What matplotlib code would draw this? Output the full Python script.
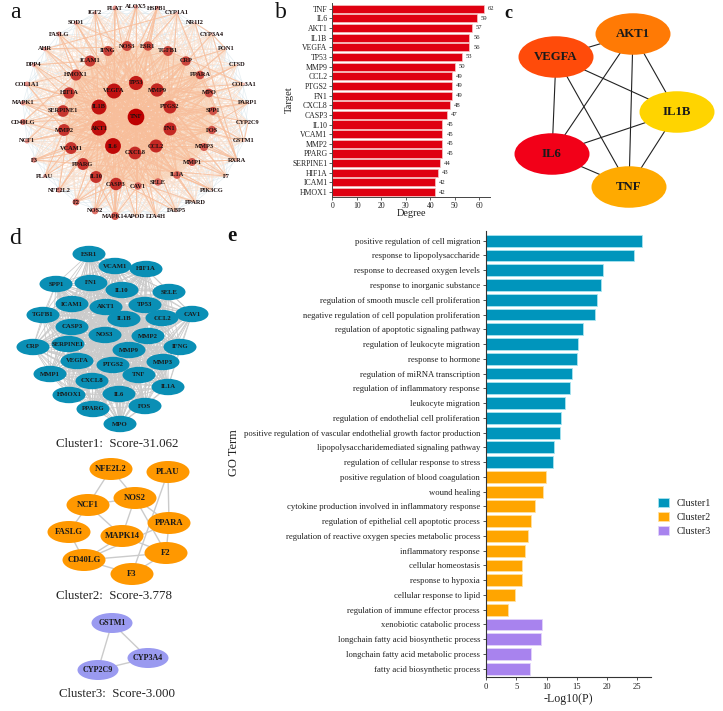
#!/usr/bin/env python3
from itertools import combinations

import matplotlib
matplotlib.use("Agg")
import matplotlib.pyplot as plt
from matplotlib.colors import LinearSegmentedColormap
from matplotlib.patches import Circle, Ellipse, Patch

W, H = 723, 711
plt.rcParams["font.family"] = ["Liberation Serif", "DejaVu Serif"]

# --- panel a: network, node position read in pixels ---
a_names = ["TNF", "IL1B", "AKT1", "VEGFA", "TP53", "MMP9", "PTGS2", "FN1", "CCL2", "CXCL8", "IL6",
           "HIF1A", "HMOX1", "ICAM1", "IFNG", "NOS3", "ESR1", "TGFB1", "CRP", "PPARA", "MPO", "SPP1",
           "FOS", "MMP3", "MMP1", "IL1A", "SELE", "CAV1", "CASP3", "IL10", "PPARG", "VCAM1", "MMP2",
           "SERPINE1", "PLAT", "ALOX5", "HSPB1", "CYP1A1", "NR1I2", "CYP3A4", "PON1", "CTSD", "COL3A1",
           "PARP1", "CYP2C9", "GSTM1", "RXRA", "F7", "PIK3CG", "PPARD", "FABP5", "LTA4H", "APOD",
           "MAPK14", "NOS2", "F2", "NFE2L2", "PLAU", "F3", "NCF1", "CD40LG", "MAPK1", "COL1A1", "DPP4",
           "AHR", "FASLG", "SOD1", "IGF2"]
a_x = [136, 99, 99, 114, 136, 157, 170, 170, 156, 135, 113,
       69, 76, 90, 108, 127, 148, 168, 186, 200, 209, 213,
       212, 204, 192, 177, 158, 138, 116, 96, 83, 71, 64,
       63, 115, 136, 157, 177, 195, 212, 226, 237, 244,
       248, 248, 244, 237, 226, 212, 195, 176, 156, 136,
       115, 95, 76, 59, 45, 34, 27, 23, 23, 27, 34,
       45, 59, 76, 95]
a_y = [117, 107, 128, 91, 83, 90, 107, 129, 146, 153, 146,
       93, 75, 61, 51, 46, 46, 51, 61, 75, 93, 111,
       130, 147, 162, 175, 182, 186, 184, 177, 164, 148, 130,
       111, 8, 7, 8, 13, 23, 34, 49, 65, 84,
       103, 122, 141, 160, 176, 190, 202, 211, 216, 217,
       216, 211, 202, 190, 176, 160, 141, 122, 103, 84, 65,
       49, 34, 23, 13]
a_degree = [62, 56, 57, 56, 53, 50, 49, 49, 49, 48, 59,
            43, 42, 42, 38, 38, 36, 38, 36, 33, 33, 32,
            32, 31, 31, 30, 29, 29, 47, 45, 45, 45, 45,
            44, 20, 18, 18, 14, 12, 12, 10, 10, 12,
            12, 10, 10, 14, 10, 10, 10, 12, 12, 10,
            31, 26, 27, 22, 16, 22, 20, 24, 20, 20, 18,
            18, 20, 18, 16]
# outer-ring links that stand out in the picture
a_links = {
    "PLAT": ["VEGFA", "IL6", "TNF"], "ALOX5": ["TNF", "AKT1", "NOS3"], "HSPB1": ["ESR1", "AKT1", "TNF", "IL6"],
    "CYP1A1": ["RXRA", "ESR1", "PTGS2"], "NR1I2": ["RXRA", "CYP3A4"], "CYP3A4": ["PON1", "GSTM1", "TNF"],
    "PON1": ["CRP", "IL6"], "CTSD": ["TNF", "AKT1"], "COL3A1": ["MMP9", "TGFB1", "MMP2"],
    "PARP1": ["TNF", "TP53", "CASP3", "AKT1"], "CYP2C9": ["PTGS2", "GSTM1"], "GSTM1": ["TNF", "TP53"],
    "RXRA": ["MMP1", "FN1", "PPARA", "VEGFA", "IL1B"], "F7": ["CCL2", "TNF", "MMP9", "F3"],
    "PIK3CG": ["AKT1", "IL6", "IL1A"], "PPARD": ["VEGFA", "IL1A", "PPARG"], "FABP5": ["PPARG", "IL6", "TNF"],
    "LTA4H": ["IL1B", "CXCL8", "TNF"], "APOD": ["TNF", "IL6"], "MAPK14": ["CASP3", "IL10", "IL6", "CAV1", "TNF", "AKT1", "NOS3"],
    "NOS2": ["IL10", "IL6", "TNF", "CASP3"], "F2": ["IL6", "CASP3", "VEGFA", "CCL2"], "NFE2L2": ["HMOX1", "TP53", "AKT1"],
    "PLAU": ["MMP2", "VEGFA", "TNF"], "F3": ["VCAM1", "IL6", "TNF"], "NCF1": ["NOS3", "TNF", "AKT1"],
    "CD40LG": ["IL6", "TNF", "IL1B", "ICAM1"], "MAPK1": ["TNF", "IL6", "AKT1", "HIF1A"], "COL1A1": ["TNF", "MMP2", "TGFB1", "IL1B"],
    "DPP4": ["IL6", "IL1B", "ICAM1"], "AHR": ["ESR1", "CYP1A1", "IL1B", "TNF"], "FASLG": ["IL1B", "CASP3", "ICAM1"],
    "SOD1": ["VEGFA", "TNF", "NOS3"], "IGF2": ["AKT1", "VEGFA", "TP53"],
}

# --- panel b ---
b_targets = ["TNF", "IL6", "AKT1", "IL1B", "VEGFA", "TP53", "MMP9", "CCL2", "PTGS2", "FN1", "CXCL8",
             "CASP3", "IL10", "VCAM1", "MMP2", "PPARG", "SERPINE1", "HIF1A", "ICAM1", "HMOX1"]
b_degree = [62, 59, 57, 56, 56, 53, 50, 49, 49, 49, 48, 47, 45, 45, 45, 45, 44, 43, 42, 42]

# --- panel c ---
c_names = ["AKT1", "VEGFA", "IL1B", "IL6", "TNF"]
c_x = [633, 556, 677, 552, 629]
c_y = [34, 57, 112, 154, 187]
c_colors = ["#FF7A05", "#FF4B0A", "#FFD400", "#F20018", "#FFAA00"]

# --- panel d ---
d1_names = ["ESR1", "VCAM1", "HIF1A", "SPP1", "FN1", "IL10", "SELE", "ICAM1", "AKT1", "TP53", "TGFB1",
            "IL1B", "CCL2", "CAV1", "CASP3", "NOS3", "MMP2", "CRP", "SERPINE1", "IFNG", "MMP9", "VEGFA",
            "MMP3", "PTGS2", "MMP1", "TNF", "CXCL8", "IL1A", "HMOX1", "IL6", "FOS", "PPARG", "MPO"]
d1_x = [89, 115, 146, 56, 91, 122, 169, 72, 106, 145, 43,
        124, 162, 192, 72, 105, 148, 33, 68, 180, 129, 77,
        163, 113, 50, 139, 92, 168, 69, 119, 145, 93, 120]
d1_y = [254, 266, 269, 284, 283, 290, 292, 304, 307, 305, 315,
        319, 318, 314, 327, 335, 336, 347, 344, 347, 350, 361,
        362, 365, 374, 375, 381, 387, 395, 394, 406, 409, 424]

d2_names = ["NFE2L2", "PLAU", "NCF1", "NOS2", "PPARA", "FASLG", "MAPK14", "F2", "CD40LG", "F3"]
d2_x = [111, 168, 88, 135, 169, 69, 122, 166, 84, 132]
d2_y = [469, 472, 505, 498, 523, 532, 536, 553, 560, 574]
d2_edges = [("NFE2L2", "NCF1"), ("NFE2L2", "NOS2"), ("NCF1", "NOS2"), ("NCF1", "FASLG"), ("NCF1", "MAPK14"),
            ("NOS2", "MAPK14"), ("NOS2", "PPARA"), ("NOS2", "F2"), ("PLAU", "PPARA"), ("PLAU", "F3"),
            ("PPARA", "F2"), ("PPARA", "CD40LG"), ("FASLG", "CD40LG"), ("MAPK14", "CD40LG"), ("MAPK14", "F2"),
            ("CD40LG", "F2"), ("CD40LG", "F3"), ("F3", "F2")]

d3_names = ["GSTM1", "CYP3A4", "CYP2C9"]
d3_x = [112, 148, 98]
d3_y = [623, 658, 670]

cluster_captions = ["Cluster1:  Score-31.062", "Cluster2:  Score-3.778", "Cluster3:  Score-3.000"]

# --- panel e ---
e_terms = ["positive regulation of cell migration", "response to lipopolysaccharide",
           "response to decreased oxygen levels", "response to inorganic substance",
           "regulation of smooth muscle cell proliferation", "negative regulation of cell population proliferation",
           "regulation of apoptotic signaling pathway", "regulation of leukocyte migration", "response to hormone",
           "regulation of miRNA transcription", "regulation of inflammatory response", "leukocyte migration",
           "regulation of endothelial cell proliferation",
           "positive regulation of vascular endothelial growth factor production",
           "lipopolysaccharidemediated signaling pathway", "regulation of cellular response to stress",
           "positive regulation of blood coagulation", "wound healing",
           "cytokine production involved in inflammatory response", "regulation of epithelial cell apoptotic process",
           "regulation of reactive oxygen species metabolic process", "inflammatory response", "cellular homeostasis",
           "response to hypoxia", "cellular response to lipid", "regulation of immune effector process",
           "xenobiotic catabolic process", "longchain fatty acid biosynthetic process",
           "longchain fatty acid metabolic process", "fatty acid biosynthetic process"]
e_values = [25.9, 24.5, 19.45, 19.1, 18.45, 18.05, 16.07, 15.2, 15.0, 14.2, 13.96, 13.07, 12.47, 12.3, 11.25, 11.1,
            9.86, 9.47, 8.03, 7.48, 6.93, 6.37, 5.98, 5.87, 4.76, 3.66,
            9.25, 9.14, 7.37, 7.26]
e_cluster = [0] * 16 + [1] * 10 + [2] * 4
cluster_names = ["Cluster1", "Cluster2", "Cluster3"]
cluster_colors = ["#0095BC", "#FFA500", "#A883EE"]
cluster_edges = ["#A8E4F0", "#FFE0A0", "#E2D4FA"]
TEXT = "#222222"


def px_axes(fig, left, top, right, bottom):
    return fig.add_axes([left / W, 1 - bottom / H, (right - left) / W, (bottom - top) / H])


def draw_cluster(ax, names, xs, ys, edges, face, rx, ry, size, edge_lw=1.0):
    pos = {n: (x, y) for n, x, y in zip(names, xs, ys)}
    for p, q in edges:
        ax.plot([pos[p][0], pos[q][0]], [pos[p][1], pos[q][1]], color="#CBCBCB", lw=edge_lw, zorder=1)
    for n in names:
        ax.add_patch(Ellipse(pos[n], 2 * rx, 2 * ry, facecolor=face, edgecolor="none", zorder=2))
        ax.text(*pos[n], n, ha="center", va="center", fontsize=size, fontweight="bold", color="#1a1a1a", zorder=3)


fig = plt.figure(figsize=(W / 100, H / 100), dpi=100, facecolor="white")

net = fig.add_axes([0, 0, 1, 1])
net.set_xlim(0, W)
net.set_ylim(H, 0)
net.axis("off")

# panel a
pos_a = {n: (x, y) for n, x, y in zip(a_names, a_x, a_y)}
red_map = LinearSegmentedColormap.from_list(
    "deg", [(0, "#F6C9C2"), (0.3, "#E0736A"), (0.45, "#CC4A40"), (0.7, "#C5302A"), (1, "#BE0000")])
for p, q in combinations(a_names[34:], 2):
    if (a_names.index(p) + a_names.index(q)) % 4 == 0:
        net.plot(*zip(pos_a[p], pos_a[q]), color="#D9E6EC", lw=0.5, alpha=0.7, zorder=1)
for i, p in enumerate(a_names[34:]):
    for j, q in enumerate(a_names[:34]):
        if (i + j) % 2 == 0:
            net.plot(*zip(pos_a[p], pos_a[q]), color="#FBDDC8", lw=0.45, alpha=0.8, zorder=1.05)
for p, q in combinations(a_names[11:34], 2):
    net.plot(*zip(pos_a[p], pos_a[q]), color="#F9D2B4", lw=0.5, alpha=0.75, zorder=1.1)
for p in a_names[:11]:
    for q in a_names[:34]:
        if p != q:
            net.plot(*zip(pos_a[p], pos_a[q]), color="#F8BE9A", lw=0.7, alpha=0.7, zorder=1.2)
for p, targets in a_links.items():
    for q in targets:
        net.plot(*zip(pos_a[p], pos_a[q]), color="#F7BE9C", lw=0.8, alpha=0.85, zorder=1.3)
for n, d in zip(a_names, a_degree):
    radius = (25 - (62 - d) * 0.42) / 3
    net.add_patch(Circle(pos_a[n], radius, facecolor=red_map((d - 10) / 52), edgecolor="none", zorder=2))
    net.text(*pos_a[n], n, ha="center", va="center", fontsize=4.6, fontweight="bold", color="#1c1010", zorder=3)

# panel c
pos_c = {n: (x, y) for n, x, y in zip(c_names, c_x, c_y)}
for p, q in combinations(c_names, 2):
    net.plot(*zip(pos_c[p], pos_c[q]), color="#222222", lw=0.8, zorder=1)
for n, color in zip(c_names, c_colors):
    net.add_patch(Ellipse(pos_c[n], 75, 41.5, facecolor=color, edgecolor="none", zorder=2))
    net.text(*pos_c[n], n, ha="center", va="center", fontsize=9.2, fontweight="bold", color="#1a1a1a", zorder=3)

# panel d
draw_cluster(net, d1_names, d1_x, d1_y, list(combinations(d1_names, 2)), "#0A8FB5", 16.5, 8.2, 4.9, edge_lw=0.6)
draw_cluster(net, d2_names, d2_x, d2_y, d2_edges, "#FF9800", 21.5, 11, 6.2)
draw_cluster(net, d3_names, d3_x, d3_y, list(combinations(d3_names, 2)), "#9A9AF0", 20.5, 10, 5.8)
for caption, cx, cy in zip(cluster_captions, [117, 114, 117], [444, 596, 694]):
    net.text(cx, cy, caption, ha="center", va="center", fontsize=9.3, color=TEXT)

# panel letters
for letter, lx, ly, size, weight in [("a", 15, 12, 17, "normal"), ("b", 281, 13, 17, "normal"),
                                     ("c", 508, 14, 13, "bold"), ("d", 15, 238, 17, "normal"),
                                     ("e", 232, 236, 15, "bold")]:
    net.text(lx, ly, letter, ha="center", va="center", fontsize=size, fontweight=weight, color="#111111")

# panel b
ax_b = px_axes(fig, 332.3, 2.9, 490, 196.9)
ax_b.patch.set_alpha(0)
ax_b.barh(range(len(b_targets)), b_degree, height=0.84, color="#DF0011", edgecolor="#F7C4C4", linewidth=0.5)
for i, d in enumerate(b_degree):
    ax_b.text(d + 1.6, i, str(d), va="center", ha="left", fontsize=4.8, color=TEXT)
ax_b.set_yticks(range(len(b_targets)), b_targets)
ax_b.set_ylim(19.5, -0.6)
ax_b.set_xlim(0, 64.4)
ax_b.set_xticks(range(0, 61, 10))
ax_b.tick_params(axis="both", labelsize=5.6, length=2, width=0.6, pad=1.5, labelcolor=TEXT, color="#444444")
ax_b.set_xlabel("Degree", fontsize=7.4, color=TEXT, labelpad=-0.7)
ax_b.set_ylabel("Target", fontsize=7.6, color=TEXT, labelpad=-1)
for side in ["top", "right"]:
    ax_b.spines[side].set_visible(False)
for side in ["left", "bottom"]:
    ax_b.spines[side].set_linewidth(0.7)
    ax_b.spines[side].set_color("#444444")

# panel e
ax_e = px_axes(fig, 486.3, 231, 650.7, 677)
ax_e.patch.set_alpha(0)
ax_e.barh(range(len(e_terms)), e_values, height=0.8,
          color=[cluster_colors[c] for c in e_cluster],
          edgecolor=[cluster_edges[c] for c in e_cluster], linewidth=0.6)
ax_e.set_yticks(range(len(e_terms)), e_terms)
ax_e.set_ylim(29.56, -0.66)
ax_e.set_xlim(0, 27.3)
ax_e.set_xticks(range(0, 26, 5))
ax_e.tick_params(axis="both", labelsize=6.2, length=2, width=0.6, pad=2.5, labelcolor=TEXT, color="#333333")
ax_e.set_xlabel("-Log10(P)", fontsize=8.6, color=TEXT, labelpad=1)
ax_e.set_ylabel("GO Term", fontsize=9, color=TEXT)
ax_e.yaxis.set_label_coords((240 - 486.3) / (650.7 - 486.3), 0.502)
for side in ["top", "right"]:
    ax_e.spines[side].set_visible(False)
for side in ["left", "bottom"]:
    ax_e.spines[side].set_linewidth(0.8)
    ax_e.spines[side].set_color("#333333")

handles = [Patch(facecolor=c, edgecolor=e, linewidth=0.6, label=n)
           for c, e, n in zip(cluster_colors, cluster_edges, cluster_names)]
fig.legend(handles=handles, loc="upper left", bbox_to_anchor=(655.5 / W, 1 - 495.5 / H), frameon=False, fontsize=7.2,
           handlelength=1.1, handleheight=1.05, handletextpad=0.8, labelspacing=0.42, borderpad=0.2, borderaxespad=0,
           labelcolor=TEXT)

fig.savefig("out.png", dpi=100, facecolor="white")
plt.close(fig)
